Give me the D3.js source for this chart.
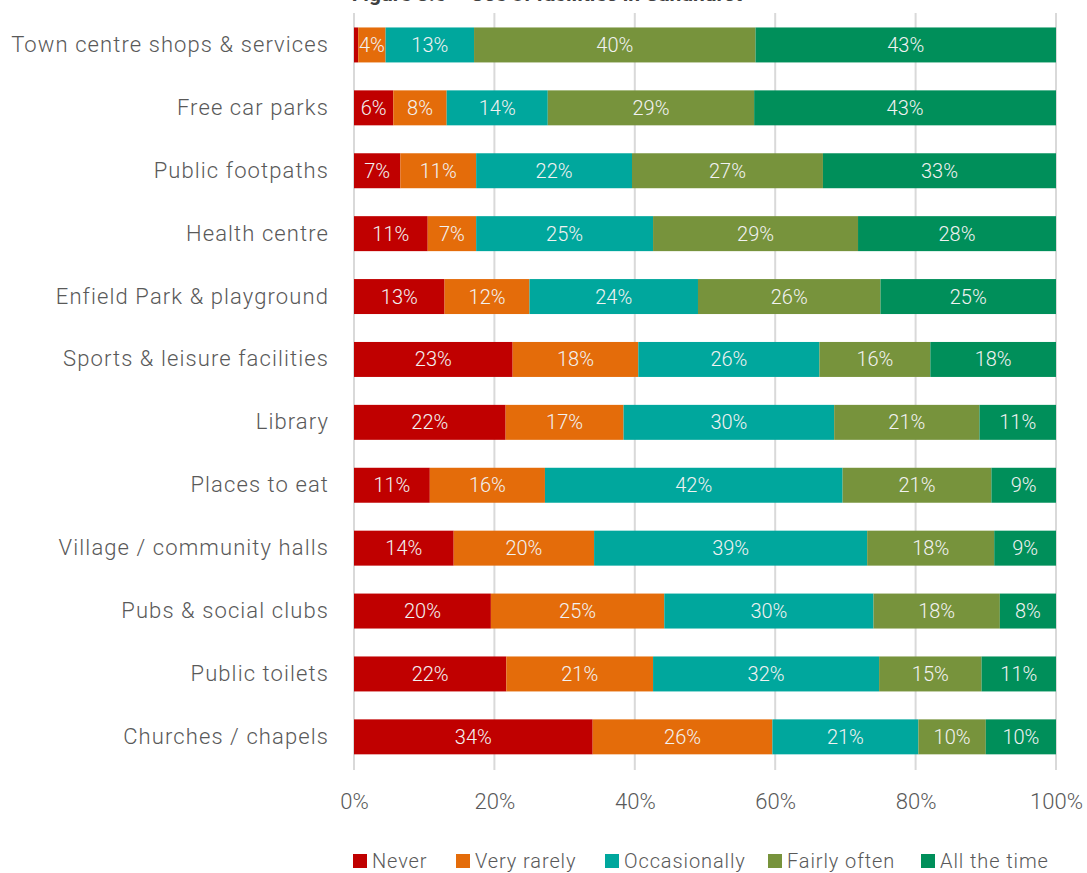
<!DOCTYPE html>
<html>
<head>
<meta charset="utf-8">
<script src="https://cdn.jsdelivr.net/npm/d3@7"></script>
<style>
  html, body { margin: 0; padding: 0; background: #ffffff; }
  svg { display: block; font-family: Roboto, "Open Sans", sans-serif; }
</style>
</head>
<body>
<svg id="chart" width="1087" height="873"></svg>
<script>
// ---- data ----
const title = "Figure 3.6 – Use of facilities in Sandhurst";
const categories = [
  "Town centre shops & services",
  "Free car parks",
  "Public footpaths",
  "Health centre",
  "Enfield Park & playground",
  "Sports & leisure facilities",
  "Library",
  "Places to eat",
  "Village / community halls",
  "Pubs & social clubs",
  "Public toilets",
  "Churches / chapels"
];
const seriesNames = ["Never", "Very rarely", "Occasionally", "Fairly often", "All the time"];
const never       = [0.6,  5.6,  6.6, 10.5, 12.9, 22.6, 21.6, 10.8, 14.2, 19.5, 21.7, 34.0];
const veryRarely  = [3.9,  7.6, 10.8,  6.9, 12.1, 17.9, 16.8, 16.4, 20.0, 24.7, 20.9, 25.6];
const occasionally= [12.6, 14.4, 22.2, 25.2, 24.0, 25.8, 30.0, 42.4, 38.9, 29.8, 32.2, 20.8];
const fairlyOften = [40.1, 29.4, 27.2, 29.2, 26.0, 15.8, 20.7, 21.2, 18.1, 18.0, 14.6,  9.6];
const allTheTime  = [42.8, 43.0, 33.2, 28.2, 25.0, 17.9, 10.9,  9.2,  8.8,  8.0, 10.6, 10.0];
const tickValues  = [0, 20, 40, 60, 80, 100];
const colors = ["#C00000", "#E46C0A", "#00A79D", "#77933C", "#008F5A"];

// ---- build ----
const seriesValues = [never, veryRarely, occasionally, fairlyOften, allTheTime];
const rows = categories.map((c, i) => {
  const r = { cat: c };
  seriesNames.forEach((s, j) => r[s] = seriesValues[j][i]);
  return r;
});
const stacked = d3.stack().keys(seriesNames)(rows);

const svg = d3.select("#chart");
const x = d3.scaleLinear().domain([0, 100]).range([354, 1056]);
const y = d3.scaleBand().domain(categories).range([13.5, 768.3]).paddingInner(0.444).paddingOuter(0.222);
const color = d3.scaleOrdinal().domain(seriesNames).range(colors);

// title (cut off at top in the reference)
svg.append("text")
  .attr("x", 547).attr("y", 0.5)
  .attr("text-anchor", "middle")
  .attr("font-size", 21).attr("font-weight", 700)
  .attr("fill", "#404040")
  .text(title);

// gridlines
svg.append("g").selectAll("line").data(tickValues).join("line")
  .attr("x1", d => x(d)).attr("x2", d => x(d))
  .attr("y1", 13).attr("y2", 770)
  .attr("stroke", "#D9D9D9").attr("stroke-width", 2);

// bars
const layer = svg.append("g").selectAll("g").data(stacked).join("g")
  .attr("fill", d => color(d.key));
layer.selectAll("rect").data(d => d).join("rect")
  .attr("x", d => x(d[0]))
  .attr("width", d => x(d[1]) - x(d[0]))
  .attr("y", d => y(d.data.cat))
  .attr("height", y.bandwidth());

// data labels
const lbl = svg.append("g").selectAll("g").data(stacked).join("g");
lbl.selectAll("text").data(d => d.filter(p => (p[1] - p[0]) >= 2)).join("text")
  .attr("x", d => (x(d[0]) + x(d[1])) / 2)
  .attr("y", d => y(d.data.cat) + y.bandwidth() / 2)
  .attr("dy", "0.35em")
  .attr("text-anchor", "middle")
  .attr("font-size", 20).attr("font-weight", 300)
  .attr("fill", "#F2F2F2")
  .text(d => Math.round(d[1] - d[0]) + "%");

// category axis
const yAxis = svg.append("g").attr("transform", "translate(354,0)")
  .call(d3.axisLeft(y).tickSize(0).tickPadding(25));
yAxis.select(".domain").remove();
yAxis.selectAll("text")
  .attr("font-size", 22).attr("font-weight", 300)
  .attr("letter-spacing", "1.1px")
  .attr("fill", "#595959").attr("font-family", "Roboto, sans-serif");

// value axis
const xAxis = svg.append("g").attr("transform", "translate(0,778)")
  .call(d3.axisBottom(x).tickValues(tickValues).tickFormat(d => d + "%").tickSize(0).tickPadding(15));
xAxis.select(".domain").remove();
xAxis.selectAll("text")
  .attr("font-size", 22).attr("font-weight", 300)
  .attr("fill", "#595959").attr("font-family", "Roboto, sans-serif");

// legend
const legendX = [353, 456, 605, 768, 921];
const leg = svg.append("g").selectAll("g").data(seriesNames).join("g")
  .attr("transform", (d, i) => `translate(${legendX[i]},854)`);
leg.append("rect").attr("width", 14).attr("height", 14).attr("fill", d => color(d));
leg.append("text").attr("x", 19).attr("y", 7).attr("dy", "0.35em")
  .attr("font-size", 20).attr("font-weight", 300).attr("fill", "#595959")
  .attr("letter-spacing", "0.9px")
  .attr("font-family", "Roboto, sans-serif")
  .text(d => d);
</script>
</body>
</html>
